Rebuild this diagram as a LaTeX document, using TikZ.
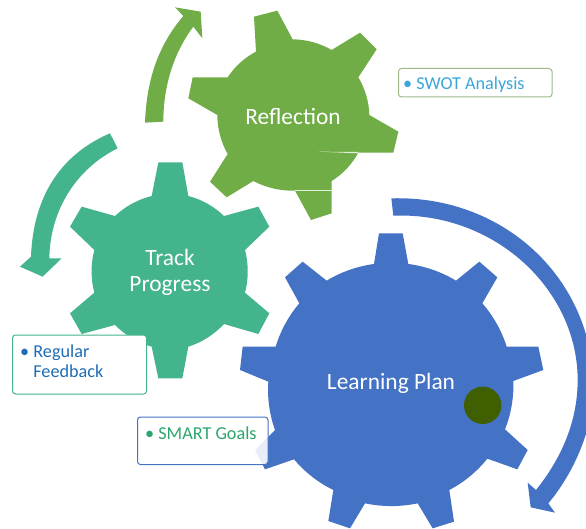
\documentclass[tikz,border=0pt]{standalone}
\usepackage{fontspec}
\setmainfont{Carlito}
\definecolor{gblue}{HTML}{4472C4}
\definecolor{ggreen}{HTML}{70AD47}
\definecolor{gteal}{HTML}{43B48C}
\definecolor{dot}{HTML}{3F5F00}
\definecolor{tblue}{HTML}{1F6DB5}
\definecolor{tsky}{HTML}{3AA6DC}
\definecolor{tgreen}{HTML}{2BA56E}
\definecolor{swotline}{HTML}{9DBB88}
\tikzset{
  arcg/.style={bend left=12,looseness=.85},
  arcm/.style={bend left=15,looseness=.85},
  gearlabel/.style={text=white,font=\fontsize{23.4}{26}\selectfont,align=center,inner sep=0pt},
  notebox/.style={rounded corners=3pt,line width=1pt,fill=white},
  notetext/.style={font=\fontsize{18.2}{20}\selectfont,inner sep=0pt,align=left,anchor=north west},
}
\begin{document}
\begin{tikzpicture}[x=1pt,y=-1pt]
\useasboundingbox (0,0) rectangle (586,529);
\clip (0,0) rectangle (586,529);
% Track Progress gear
\begin{scope}[shift={(0,130)},scale=1/3]
\fill[gteal] (455,198) -- (475,97) -- (547,97) -- (565,198)
  to[arcm] (672,258) -- (775,230) -- (808,290) -- (735,360)
  to[arcm] (735,488) -- (808,550) -- (775,612) -- (672,582)
  to[arcm] (565,650) -- (547,745) -- (475,745) -- (455,650)
  to[arcm] (345,585) -- (245,612) -- (210,550) -- (283,488)
  to[arcm] (283,360) -- (210,290) -- (245,230) -- (345,258)
  to[arcm] cycle;
\fill[gteal] (330,10) .. controls (190,70) and (100,190) .. (93,380)
  -- (60,410) -- (128,440) -- (185,385) -- (148,385)
  .. controls (150,240) and (230,115) .. (353,55) -- cycle;
\end{scope}
% Reflection gear
\begin{scope}[shift={(130,0)},scale=1/3]
\fill[ggreen] (378,155) -- (372,50) -- (442,32) -- (488,118)
  to[arcm] (605,150) -- (690,98) -- (740,148) -- (685,232)
  to[arcm] (718,345) -- (805,395) -- (790,458) -- (685,458)
  to[arcm] (605,543) -- (605,640) -- (543,660) -- (495,572)
  to[arcm] (370,543) -- (290,592) -- (240,545) -- (293,462)
  to[arcm] (262,345) -- (175,295) -- (188,232) -- (293,232)
  to[arcm] cycle;
\fill[white!80!ggreen] (565,455) -- (685,456) -- (685,460) -- cycle;
\fill[white!80!ggreen] (495,570) rectangle (605,574);
\fill[ggreen] (45,368) .. controls (50,230) and (90,130) .. (160,48)
  -- (135,22) -- (212,35) -- (217,115) -- (190,80)
  .. controls (130,160) and (100,260) .. (100,365) -- cycle;
\end{scope}
% Learning Plan gear
\begin{scope}[shift={(230,190)},scale=1/3]
\fill[gblue] (432,222) -- (447,130) -- (518,130) -- (535,222)
  to[arcg] (678,272) -- (748,215) -- (802,262) -- (757,340)
  to[arcg] (830,470) -- (925,470) -- (940,540) -- (850,573)
  to[arcg] (825,718) -- (893,780) -- (862,838) -- (772,806)
  to[arcg] (658,900) -- (672,995) -- (608,1015) -- (563,940)
  to[arcg] (405,940) -- (360,1015) -- (295,993) -- (310,900)
  to[arcg] (192,808) -- (105,838) -- (75,780) -- (135,720)
  to[arcg] (115,575) -- (30,540) -- (38,470) -- (137,470)
  to[arcg] (208,340) -- (165,262) -- (218,215) -- (290,272)
  to[arcg] cycle;
\fill[gblue] (484,25) .. controls (825,15) and (1090,270) .. (1090,590)
  .. controls (1090,720) and (1030,850) .. (955,940)
  -- (975,968) -- (902,952) -- (893,878) -- (918,900)
  .. controls (990,810) and (1043,700) .. (1043,570)
  .. controls (1043,299) and (794,65) .. (490,77) -- cycle;
\end{scope}
\fill[dot] (482.7,405.3) circle[radius=18.7];
% Labels on gears
\node[gearlabel] (reflection) at (293,116) {Reflection};
\node[gearlabel] (track) at (170,272) {Track\\Progress};
\node[gearlabel] (learning) at (391,383) {Learning Plan};
% Note boxes
\draw[notebox,draw=swotline] (398.5,68.5) rectangle (552,97);
\node[notetext,text=tsky] (swot) at (403,76.5) {\textbullet\ SWOT Analysis};
\draw[notebox,draw=gteal] (12.5,335) rectangle (146.5,394);
\node[notetext,text=tblue] (feedback) at (20,344.5) {\textbullet\ Regular\\\phantom{\textbullet\ }Feedback};
\draw[notebox,draw=gblue,fill opacity=.88] (137.5,417) rectangle (268,464.5);
\node[notetext,text=tgreen] (smart) at (145,426.5) {\textbullet\ SMART Goals};
\end{tikzpicture}
\end{document}
